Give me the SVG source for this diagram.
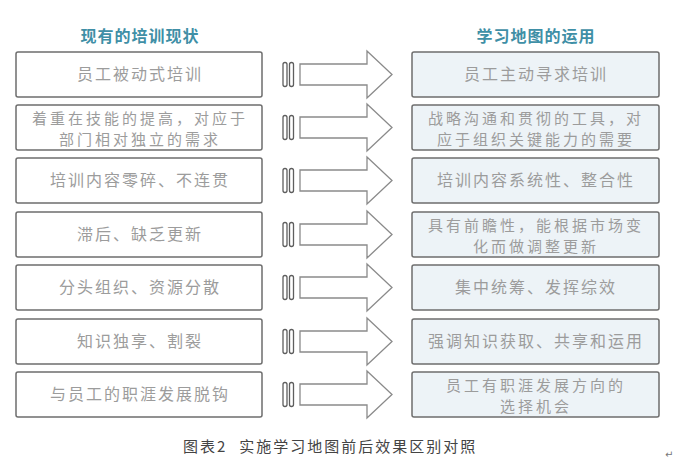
<svg xmlns="http://www.w3.org/2000/svg" xmlns:xlink="http://www.w3.org/1999/xlink" width="700" height="470" viewBox="0 0 700 470">
<style>
.title{font-family:"Noto Sans CJK SC","Noto Sans",sans-serif;font-size:16px;font-weight:bold;fill:#3f8fa6;text-anchor:middle;letter-spacing:1px}
.lbox{fill:#ffffff;stroke:#6e6e6e;stroke-width:1.5}
.rbox{fill:#edf3f7;stroke:#6e6e6e;stroke-width:1.5}
.t{font-family:"Noto Sans CJK SC","Noto Sans",sans-serif;font-size:16px;fill:#9c9c9c;text-anchor:middle;letter-spacing:2px}
.t2{font-family:"Noto Sans CJK SC","Noto Sans",sans-serif;font-size:15px;fill:#9c9c9c;text-anchor:middle;letter-spacing:3px}
.cap{font-family:"Noto Sans CJK SC","Noto Sans",sans-serif;font-size:15px;fill:#444;letter-spacing:2px}
.ar{fill:#ffffff;stroke:#8a8a8a;stroke-width:1.3;stroke-linejoin:miter}
.bar{fill:#ffffff;stroke:#5e5e5e;stroke-width:1.3}
</style>
<defs>
<g id="arrow">
<rect class="bar" x="283" y="-12" width="4" height="24" rx="2"/>
<rect class="bar" x="289.5" y="-12" width="4" height="24" rx="2"/>
<path class="ar" d="M300,-10.5 H367 V-23.5 L392,0 L367,23.5 V10.5 H300 Z"/>
</g>
</defs>
<text class="title" x="140" y="42">现有的培训现状</text>
<text class="title" x="536" y="42">学习地图的运用</text>
<g id="connectors">
<use xlink:href="#arrow" transform="translate(0,74.5)"/>
<use xlink:href="#arrow" transform="translate(0,127.5)"/>
<use xlink:href="#arrow" transform="translate(0,180.5)"/>
<use xlink:href="#arrow" transform="translate(0,234.5)"/>
<use xlink:href="#arrow" transform="translate(0,287.5)"/>
<use xlink:href="#arrow" transform="translate(0,341.5)"/>
<use xlink:href="#arrow" transform="translate(0,394.5)"/>
</g>
<g id="l1"><rect class="lbox" x="16" y="52" width="246" height="45" rx="2"/><text class="t" x="140" y="80">员工被动式培训</text></g>
<g id="l2"><rect class="lbox" x="16" y="105" width="246" height="45" rx="2"/><text class="t2" x="140" y="124">着重在技能的提高，对应于</text><text class="t2" x="140" y="145">部门相对独立的需求</text></g>
<g id="l3"><rect class="lbox" x="16" y="158" width="246" height="45" rx="2"/><text class="t" x="140" y="186">培训内容零碎、不连贯</text></g>
<g id="l4"><rect class="lbox" x="16" y="212" width="246" height="45" rx="2"/><text class="t" x="140" y="240">滞后、缺乏更新</text></g>
<g id="l5"><rect class="lbox" x="16" y="265" width="246" height="45" rx="2"/><text class="t" x="140" y="293">分头组织、资源分散</text></g>
<g id="l6"><rect class="lbox" x="16" y="319" width="246" height="45" rx="2"/><text class="t" x="140" y="347">知识独享、割裂</text></g>
<g id="l7"><rect class="lbox" x="16" y="372" width="246" height="45" rx="2"/><text class="t" x="140" y="400">与员工的职涯发展脱钩</text></g>
<g id="r1"><rect class="rbox" x="412" y="52" width="247" height="45" rx="2"/><text class="t" x="536" y="80">员工主动寻求培训</text></g>
<g id="r2"><rect class="rbox" x="412" y="105" width="247" height="45" rx="2"/><text class="t2" x="536" y="124">战略沟通和贯彻的工具，对</text><text class="t2" x="536" y="145">应于组织关键能力的需要</text></g>
<g id="r3"><rect class="rbox" x="412" y="158" width="247" height="45" rx="2"/><text class="t" x="536" y="186">培训内容系统性、整合性</text></g>
<g id="r4"><rect class="rbox" x="412" y="212" width="247" height="45" rx="2"/><text class="t2" x="536" y="231">具有前瞻性，能根据市场变</text><text class="t2" x="536" y="252">化而做调整更新</text></g>
<g id="r5"><rect class="rbox" x="412" y="265" width="247" height="45" rx="2"/><text class="t" x="536" y="293">集中统筹、发挥综效</text></g>
<g id="r6"><rect class="rbox" x="412" y="319" width="247" height="45" rx="2"/><text class="t" x="536" y="347">强调知识获取、共享和运用</text></g>
<g id="r7"><rect class="rbox" x="412" y="372" width="247" height="45" rx="2"/><text class="t2" x="536" y="391">员工有职涯发展方向的</text><text class="t2" x="536" y="412">选择机会</text></g>
<text class="cap" x="183" y="452">图表2<tspan dx="12">实施学习地图前后效果区别对照</tspan></text>
<text x="665" y="458" style="font-family:'DejaVu Sans',sans-serif;font-size:10px;fill:#777">↵</text>
</svg>
